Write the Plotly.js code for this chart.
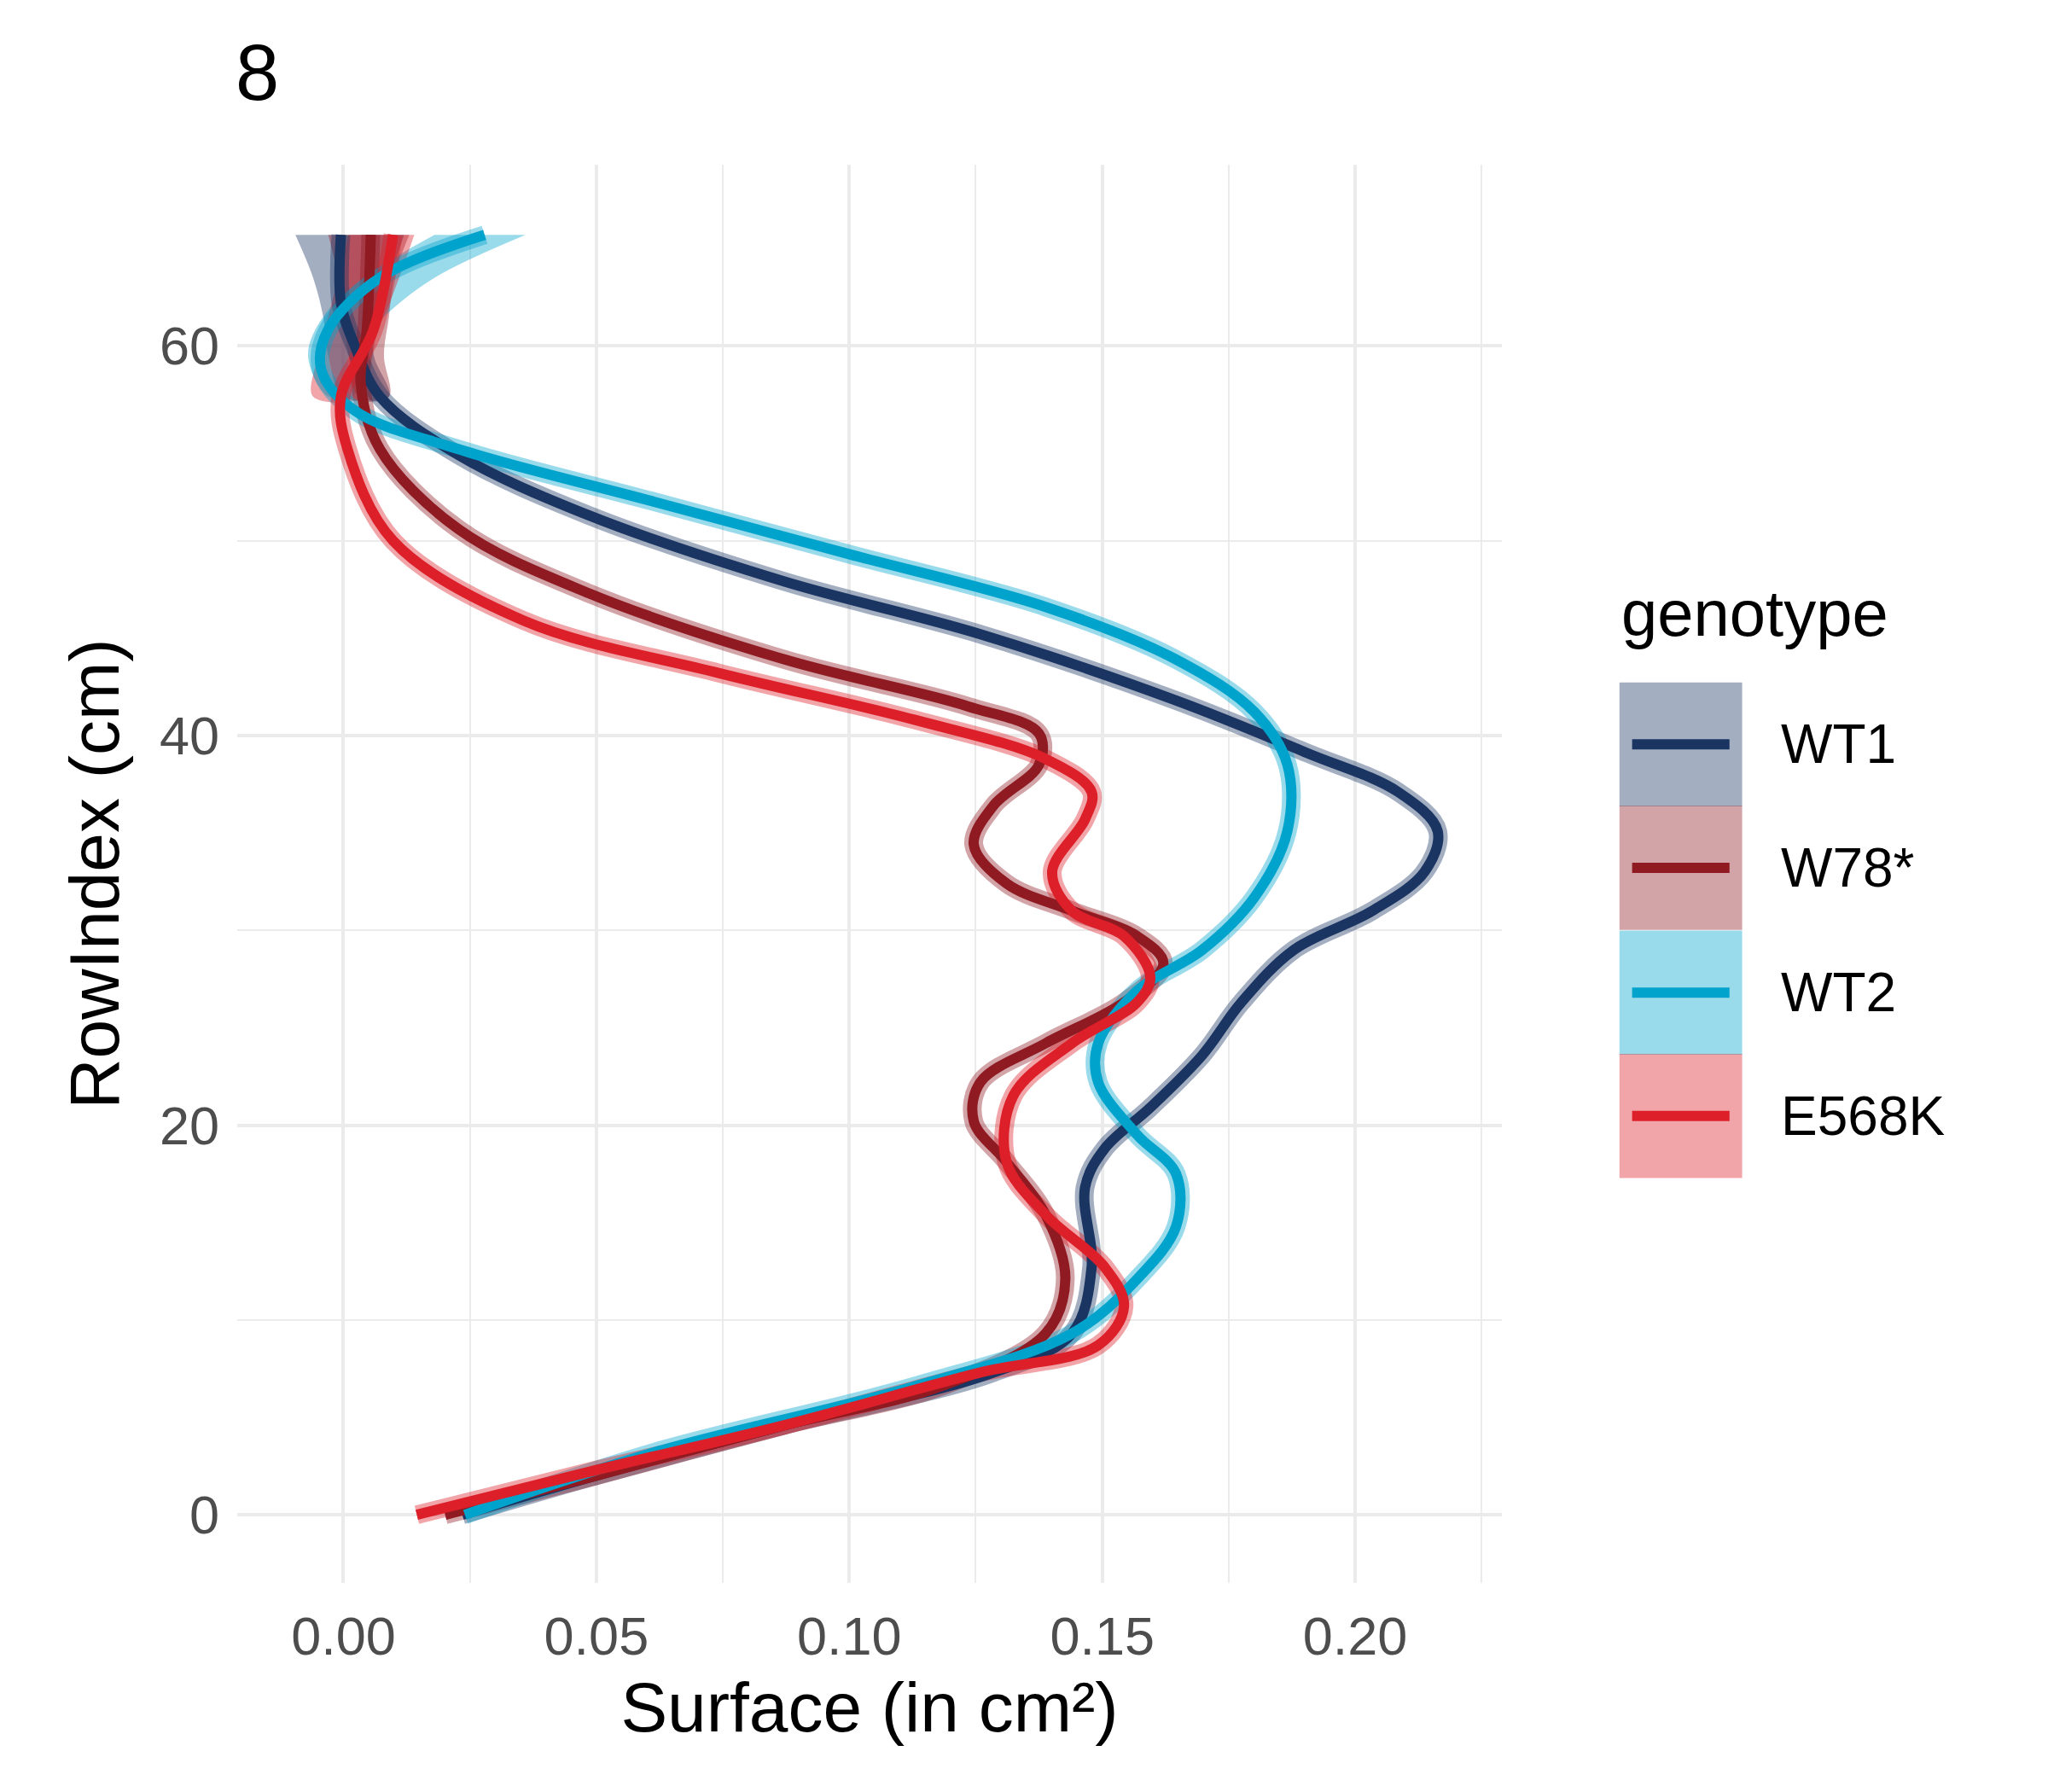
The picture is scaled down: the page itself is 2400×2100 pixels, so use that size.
<!DOCTYPE html>
<html>
<head>
<meta charset="utf-8">
<script src="https://cdn.plot.ly/plotly-3.0.1.min.js"></script>
<style>body{margin:0;background:#fff}#chart{width:2400px;height:2100px}</style>
</head>
<body>
<div id="chart"></div>
<script>
// values (Surface, RowIndex)
const genotypes = ['WT1', 'W78*', 'WT2', 'E568K'];
const colors = ['#1b3563', '#8f1a22', '#00a3cc', '#dc1f28'];
const fills = ['rgba(27,53,99,0.4)', 'rgba(143,26,34,0.4)', 'rgba(0,163,204,0.4)', 'rgba(220,31,40,0.4)'];

const wt1X = [0.0235, 0.0485, 0.0872, 0.1285, 0.144, 0.1479, 0.1466, 0.1505, 0.1595, 0.1698, 0.1775, 0.1879, 0.2034, 0.2137, 0.2163, 0.2085, 0.1905, 0.1646, 0.1259, 0.0872, 0.0485, 0.0227, 0.0072, 0.0021, -0.0005, -0.0005];
const wt1Y = [0, 1.9, 4.6, 7.3, 9.3, 12.7, 16.8, 18.8, 20.9, 23.6, 26.3, 29, 31, 33, 35.1, 37.1, 39.1, 41.8, 45.2, 47.9, 51.3, 54.4, 57.4, 60.1, 62.2, 65.7];

const wt2X = [0.024, 0.0614, 0.113, 0.144, 0.1569, 0.1646, 0.1646, 0.1569, 0.1492, 0.1492, 0.1569, 0.1698, 0.1801, 0.1866, 0.1866, 0.1801, 0.1646, 0.1388, 0.1001, 0.0614, 0.0227, 0.0021, -0.0044, -0.0031, 0.0072, 0.0279];
const wt2Y = [0, 3.2, 6.6, 9.3, 12.1, 14.8, 17.5, 19.5, 22.2, 24.2, 26.9, 29, 31.7, 35.1, 38.5, 41.2, 43.9, 46.6, 49.3, 52, 54.7, 56.7, 58.8, 60.8, 63.5, 65.7];

const w78X = [0.0201, 0.0485, 0.0872, 0.1182, 0.1388, 0.1427, 0.1388, 0.1311, 0.1246, 0.1259, 0.1388, 0.1543, 0.1621, 0.1569, 0.144, 0.1311, 0.1246, 0.1285, 0.1375, 0.1375, 0.1234, 0.0872, 0.0485, 0.0227, 0.0072, 0.0034, 0.0046, 0.0054];
const w78Y = [0, 1.9, 4.6, 6.6, 9.3, 12.1, 15.4, 18.1, 20.2, 22.2, 24.2, 26.3, 28.3, 29.7, 31, 32.4, 34.4, 36.4, 38.5, 40.1, 41.5, 43.9, 47.3, 50.6, 54.7, 58.1, 60.8, 65.7];

const e568kX = [0.0145, 0.0485, 0.0872, 0.1259, 0.1492, 0.1543, 0.1505, 0.1388, 0.1311, 0.1324, 0.144, 0.1569, 0.1595, 0.1543, 0.144, 0.1401, 0.1466, 0.1479, 0.1388, 0.113, 0.0743, 0.0356, 0.0098, 0.0008, -0.0005, 0.0059, 0.0098];
const e568kY = [0, 2.2, 4.6, 7.3, 8.7, 10.7, 12.7, 15.4, 18.1, 21.5, 24.2, 26.3, 27.6, 29.7, 31, 33, 35.7, 37.1, 38.8, 40.8, 43.2, 45.9, 50, 54.7, 57.4, 60.8, 65.7];

// confidence band at the top of each curve, where it fans out
const bandY = [65.7, 63.5, 61.5, 59.5, 57.4];
const bandLo = [
    [-0.0095, -0.006, -0.004, -0.003, 0.0],
    [-0.003, -0.001, 0.0, 0.001, 0.003],
    [0.018, 0.004, -0.004, -0.007, -0.003],
    [0.001, -0.001, -0.003, -0.005, -0.006]
];
const bandHi = [
    [0.012, 0.009, 0.006, 0.006, 0.009],
    [0.013, 0.010, 0.009, 0.008, 0.009],
    [0.036, 0.018, 0.008, 0.001, 0.002],
    [0.014, 0.011, 0.008, 0.004, 0.004]
];

const seriesX = [wt1X, w78X, wt2X, e568kX];
const seriesY = [wt1Y, w78Y, wt2Y, e568kY];

const traces = [];
bandLo.forEach((lo, i) => {
    traces.push({
        x: lo.concat(bandHi[i].slice().reverse()),
        y: bandY.concat(bandY.slice().reverse()),
        type: 'scatter', mode: 'lines', fill: 'toself',
        fillcolor: fills[i], line: { width: 0, shape: 'spline' },
        hoverinfo: 'skip', showlegend: false
    });
});
// ribbons (wide translucent lines under the fitted curves)
seriesX.forEach((xs, i) => {
    traces.push({
        x: xs, y: seriesY[i], type: 'scatter', mode: 'lines',
        line: { color: fills[i], width: 22, shape: 'spline', smoothing: 1 },
        hoverinfo: 'skip', showlegend: false
    });
});
seriesX.forEach((xs, i) => {
    traces.push({
        x: xs, y: seriesY[i], type: 'scatter', mode: 'lines',
        line: { color: colors[i], width: 12, shape: 'spline', smoothing: 1 },
        name: genotypes[i], showlegend: false
    });
});

// hand-made legend in ggplot style
const shapes = [];
const annotations = [{
    text: 'genotype', xref: 'paper', yref: 'paper', x: 1.093, y: 0.684,
    xanchor: 'left', yanchor: 'middle', showarrow: false,
    font: { size: 76, color: '#000' }
}];
const boxTops = [0.635, 0.548, 0.46, 0.373];
genotypes.forEach((g, i) => {
    const top = boxTops[i], bot = top - 0.0875, mid = (top + bot) / 2;
    shapes.push({ type: 'rect', xref: 'paper', yref: 'paper', x0: 1.093, x1: 1.19, y0: bot, y1: top, fillcolor: fills[i], line: { width: 0 } });
    shapes.push({ type: 'line', xref: 'paper', yref: 'paper', x0: 1.103, x1: 1.18, y0: mid, y1: mid, line: { color: colors[i], width: 12 } });
    annotations.push({ text: g, xref: 'paper', yref: 'paper', x: 1.219, y: mid, xanchor: 'left', yanchor: 'middle', showarrow: false, font: { size: 64, color: '#000' } });
});

const layout = {
    width: 2400, height: 2100,
    paper_bgcolor: '#fff', plot_bgcolor: '#fff',
    font: { family: 'Liberation Sans, Arial, sans-serif' },
    margin: { l: 278, r: 640, t: 193, b: 245 },
    title: { text: '8', x: 0.115, xanchor: 'left', y: 0.975, yanchor: 'top', font: { size: 92, color: '#000' } },
    xaxis: {
        range: [-0.021, 0.229], tickvals: [0, 0.05, 0.1, 0.15, 0.2],
        ticktext: ['0.00', '0.05', '0.10', '0.15', '0.20'],
        showgrid: true, gridcolor: '#ebebeb', gridwidth: 4, zeroline: false, showline: false,
        minor: { tickvals: [0.025, 0.075, 0.125, 0.175, 0.225], showgrid: true, gridcolor: '#ebebeb', gridwidth: 2 },
        tickfont: { size: 63, color: '#4d4d4d' }, ticks: '', ticklabelstandoff: 20,
        title: { text: 'Surface (in cm²)', font: { size: 82, color: '#000' }, standoff: 20 }
    },
    yaxis: {
        range: [-3.5, 69.3], tickvals: [0, 20, 40, 60],
        showgrid: true, gridcolor: '#ebebeb', gridwidth: 4, zeroline: false, showline: false,
        minor: { tickvals: [10, 30, 50], showgrid: true, gridcolor: '#ebebeb', gridwidth: 2 },
        tickfont: { size: 63, color: '#4d4d4d' }, ticks: '', ticklabelstandoff: 20,
        title: { text: 'RowIndex (cm)', font: { size: 82, color: '#000' }, standoff: 20 }
    },
    shapes: shapes,
    annotations: annotations,
    showlegend: false
};

Plotly.newPlot('chart', traces, layout, { displayModeBar: false, staticPlot: true });
</script>
</body>
</html>
